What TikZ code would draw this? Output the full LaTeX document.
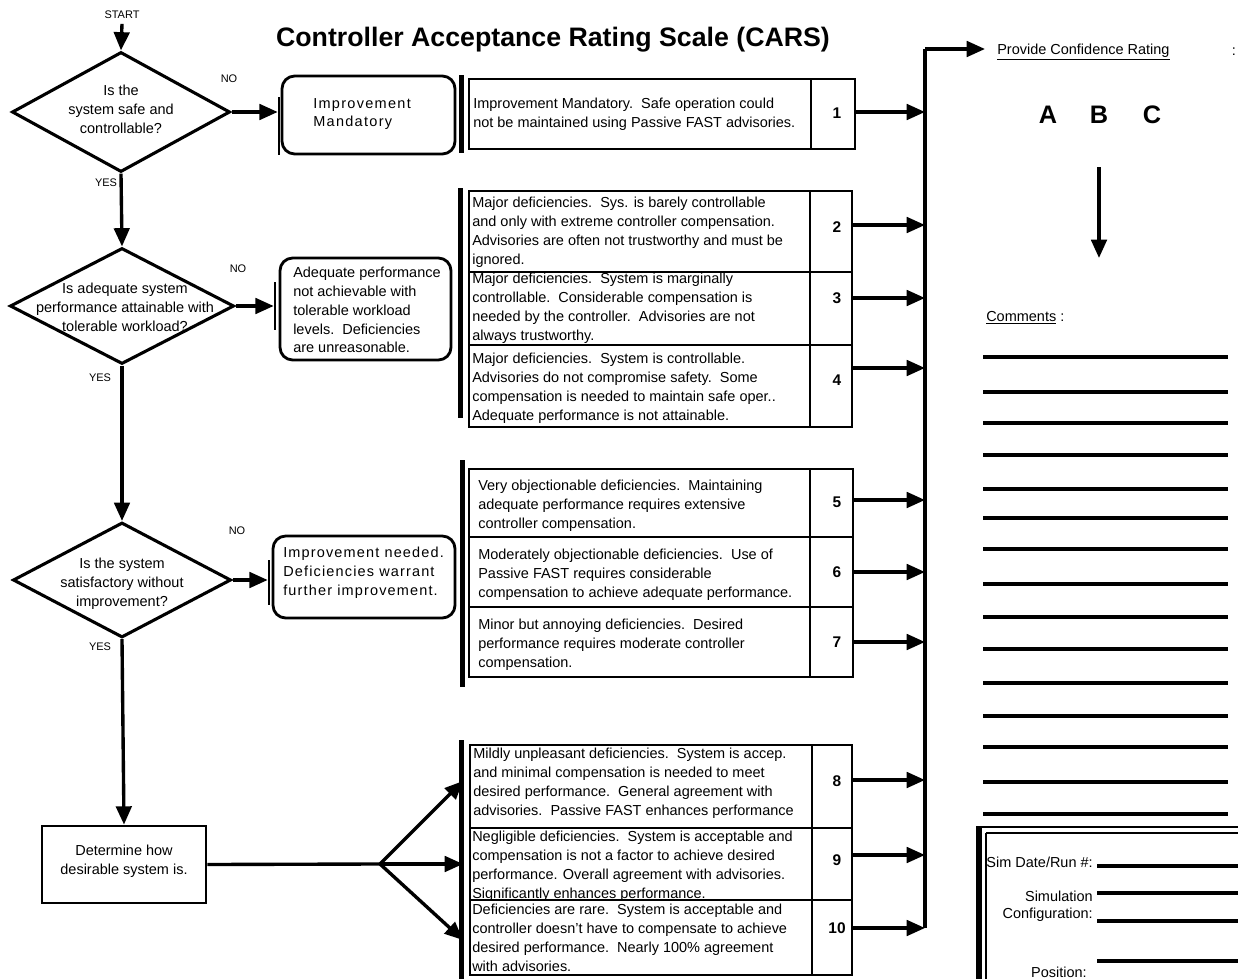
\documentclass[tikz,border=0pt]{standalone}
\usepackage{fontspec}
\setmainfont{Liberation Sans}
\usetikzlibrary{arrows.meta,shapes.geometric,fit}
\begin{document}
\begin{tikzpicture}[x=0.025cm,y=-0.025cm,
  tipped/.style={-{Triangle[length=13pt,width=11pt]}},
  conn/.style={line width=2.4pt,tipped},
  plain/.style={line width=2.4pt},
  body/.style={font=\fontsize{10.3}{13.4}\selectfont},
  small/.style={font=\fontsize{7.8}{9}\selectfont},
  rtext/.style={body,anchor=west,align=left,inner sep=0pt},
  cell/.style={draw,line width=2pt,inner sep=0pt},
  rbox/.style={draw,line width=2pt,rounded corners=9pt,inner sep=0pt},
  bar/.style={fill=black,inner sep=0pt},
  dia/.style={draw,line width=2.2pt,diamond,inner sep=0pt},
  num/.style={font=\fontsize{11}{12}\selectfont\bfseries,inner sep=0pt}]
\useasboundingbox (0,0) rectangle (1238,979);

% title
\node[font=\fontsize{19}{21}\selectfont\bfseries] (title) at (553,40) {Controller Acceptance Rating Scale (CARS)};

% start and decisions
\node[small] (start) at (122,15) {START};
\node[dia,minimum width=5.45cm,minimum height=3cm] (d1) at (121,112) {};
\node[body,align=center,inner sep=0pt] (d1t) at (121,109) {Is the\\system safe and\\controllable?};
\node[dia,minimum width=5.6cm,minimum height=2.9cm] (d2) at (122,306) {};
\node[body,align=center,inner sep=0pt] (d2t) at (125,307) {Is adequate system\\performance attainable with\\tolerable workload?};
\node[dia,minimum width=5.45cm,minimum height=2.875cm] (d3) at (122,580) {};
\node[body,align=center,inner sep=0pt] (d3t) at (122,584) {Is the system\\satisfactory without\\improvement?};
\node[draw,line width=2pt,inner sep=0pt,fit={(42,826) (206,903)}] (det) {};
\node[body,align=center,inner sep=0pt] (dett) at (124,861) {Determine how\\desirable system is.};

\node[small] (no1) at (229,79) {NO};
\node[small] (no2) at (238,269) {NO};
\node[small] (no3) at (237,531) {NO};
\node[small] (yes1) at (106,183) {YES};
\node[small] (yes2) at (100,378) {YES};
\node[small] (yes3) at (100,647) {YES};

\draw[conn] (start.south) -- (d1.north);
\draw[conn] (d1.south) -- (d2.north);
\draw[conn] (d2.south) -- (d3.north);
\draw[conn] (d3.south) -- (det.north);

% outcome boxes
\node[bar,fit={(278,97) (280,155)}] (bb1) {};
\node[bar,fit={(274,282) (276,330)}] (bb2) {};
\node[bar,fit={(268,560) (270,605)}] (bb3) {};
\node[rbox,fit={(282,76) (455,154)}] (rb1) {};
\node[rbox,fit={(280,258) (451,360)}] (rb2) {};
\node[rbox,fit={(273,536) (455,618)}] (rb3) {};
\node[rtext] (rb1t) at (313,114) {\addfontfeature{LetterSpace=9}Improvement\\\addfontfeature{LetterSpace=9}Mandatory};
\node[rtext] (rb2t) at (293,310) {Adequate performance\\not achievable with\\tolerable workload\\levels.\ \ Deficiencies\\are unreasonable.};
\node[rtext] (rb3t) at (283,573) {\addfontfeature{LetterSpace=8}Improvement needed.\\\addfontfeature{LetterSpace=8}Deficiencies warrant\\\addfontfeature{LetterSpace=8}further improvement.};
\draw[conn] (d1.east) -- (d1.east -| bb1.west);
\draw[conn] (d2.east) -- (d2.east -| bb2.west);
\draw[conn] (d3.east) -- (d3.east -| bb3.west);

% thick bars
\node[bar,fit={(459,75) (464,153)}] (tb1) {};
\node[bar,fit={(458,188) (463,418)}] (tb2) {};
\node[bar,fit={(460,460) (465,687)}] (tb3) {};
\node[bar,fit={(459,740) (464,979)}] (tb4) {};

% rating rows
\node[cell,fit={(469,79) (811,149)}] (r1) {};
\node[cell,fit={(811,79) (855,149)}] (n1) {};
\node[cell,fit={(469,191) (810,272)}] (r2) {};
\node[cell,fit={(810,191) (852,272)}] (n2) {};
\node[cell,fit={(469,272) (810,345)}] (r3) {};
\node[cell,fit={(810,272) (852,345)}] (n3) {};
\node[cell,fit={(469,345) (810,427)}] (r4) {};
\node[cell,fit={(810,345) (852,427)}] (n4) {};
\node[cell,fit={(469,469) (810,537)}] (r5) {};
\node[cell,fit={(810,469) (853,537)}] (n5) {};
\node[cell,fit={(469,537) (810,607)}] (r6) {};
\node[cell,fit={(810,537) (853,607)}] (n6) {};
\node[cell,fit={(469,607) (810,677)}] (r7) {};
\node[cell,fit={(810,607) (853,677)}] (n7) {};
\node[cell,fit={(470,745) (812,828)}] (r8) {};
\node[cell,fit={(812,745) (852,828)}] (n8) {};
\node[cell,fit={(470,828) (812,900)}] (r9) {};
\node[cell,fit={(812,828) (852,900)}] (n9) {};
\node[cell,fit={(470,900) (812,975)}] (r10) {};
\node[cell,fit={(812,900) (852,975)}] (n10) {};

\node[rtext] (t1) at (473,114) {Improvement Mandatory.\ \ Safe operation could\\not be maintained using Passive FAST advisories.};
\node[rtext] (t2) at (472,232) {Major deficiencies.\ \ Sys. is barely controllable\\and only with extreme controller compensation.\\Advisories are often not trustworthy and must be\\ignored.};
\node[rtext] (t3) at (472,308) {Major deficiencies.\ \ System is marginally\\controllable.\ \ Considerable compensation is\\needed by the controller.\ \ Advisories are not\\always trustworthy.};
\node[rtext] (t4) at (472,388) {Major deficiencies.\ \ System is controllable.\\Advisories do not compromise safety.\ \ Some\\compensation is needed to maintain safe oper..\\Adequate performance is not attainable.};
\node[rtext] (t5) at (478,506) {Very objectionable deficiencies.\ \ Maintaining\\adequate performance requires extensive\\controller compensation.};
\node[rtext] (t6) at (478,575) {Moderately objectionable deficiencies.\ \ Use of\\Passive FAST requires considerable\\compensation to achieve adequate performance.};
\node[rtext] (t7) at (478,645) {Minor but annoying deficiencies.\ \ Desired\\performance requires moderate controller\\compensation.};
\node[rtext] (t8) at (473,783) {Mildly unpleasant deficiencies.\ \ System is accep.\\and minimal compensation is needed to meet\\desired performance.\ \ General agreement with\\advisories.\ \ Passive FAST enhances performance};
\node[rtext] (t9) at (472,866) {Negligible deficiencies.\ \ System is acceptable and\\compensation is not a factor to achieve desired\\performance. Overall agreement with advisories.\\Significantly enhances performance.};
\node[rtext] (t10) at (472,938) {Deficiencies are rare.\ \ System is acceptable and\\controller doesn't have to compensate to achieve\\desired performance.\ \ Nearly 100\% agreement\\with advisories.};

\node[num] (m1) at (837,113) {1};
\node[num] (m2) at (837,227) {2};
\node[num] (m3) at (837,298) {3};
\node[num] (m4) at (837,380) {4};
\node[num] (m5) at (837,502) {5};
\node[num] (m6) at (837,572) {6};
\node[num] (m7) at (837,642) {7};
\node[num] (m8) at (837,781) {8};
\node[num] (m9) at (837,860) {9};
\node[num] (m10) at (837,928) {10};

% branch from determine box
\coordinate (br) at (380,864);
\coordinate (e8) at (463,781);
\coordinate (e9) at (463,864);
\coordinate (e10) at (463,940);
\draw[plain] (det.east) -- (br);
\draw[conn] (br) -- (e8);
\draw[conn] (br) -- (e9);
\draw[conn] (br) -- (e10);

% collector line
\coordinate (vtop) at (925,49);
\coordinate (vbot) at (925,928);
\foreach \i/\y in {1/112,2/225,3/298,4/368,5/500,6/572,7/642,8/780,9/855,10/928}{
  \coordinate (a\i) at (925,\y);
  \draw[conn] (n\i.east |- a\i) -- (a\i);
}
\node[body,anchor=west,inner xsep=0.3cm,inner ysep=0pt] (pcr) at (985,52) {\underline{Provide Confidence Rating}};
\node[body,inner sep=0pt] (colon) at (1234,52) {:};
\draw[plain] (vbot) -- (vtop);
\draw[conn] (vtop) -- (vtop -| pcr.west);

% confidence
\node[font=\fontsize{18}{20}\selectfont\bfseries] (ca) at (1048,115) {A};
\node[font=\fontsize{18}{20}\selectfont\bfseries] (cb) at (1099,115) {B};
\node[font=\fontsize{18}{20}\selectfont\bfseries] (cc) at (1152,115) {C};
\coordinate (dn1) at (1099,167);
\coordinate (dn2) at (1099,258);
\draw[conn] (dn1) -- (dn2);

% comments
\node[body,anchor=west,inner sep=0pt] (com) at (986,318) {\underline{Comments} :};
\foreach \y in {357,392,423,455,489,518,549,584,617,649,683,716,747,782,814}{
  \draw[line width=2.2pt] (983,\y) -- (1228,\y);
}

% sim info box
\draw[line width=2pt] (976,827) -- (1250,827);
\draw[line width=1.2pt] (986,833) -- (1250,833);
\draw[line width=4pt] (979,826) -- (979,990);
\draw[line width=1.2pt] (986,833) -- (986,990);
\node[body,anchor=east,inner sep=0pt] (sd) at (1093,862) {Sim Date/Run \#:};
\node[body,anchor=east,inner sep=0pt] (sim) at (1093,896) {Simulation};
\node[body,anchor=east,inner sep=0pt] (cfg) at (1093,915) {Configuration:};
\node[body,anchor=east,inner sep=0pt] (pos) at (1087,972) {Position:};
\draw[line width=2.2pt] (1097,866) -- (1245,866);
\draw[line width=2.2pt] (1097,893) -- (1245,893);
\draw[line width=2.2pt] (1097,921) -- (1245,921);
\draw[line width=2.2pt] (1097,961) -- (1245,961);
\end{tikzpicture}
\end{document}
